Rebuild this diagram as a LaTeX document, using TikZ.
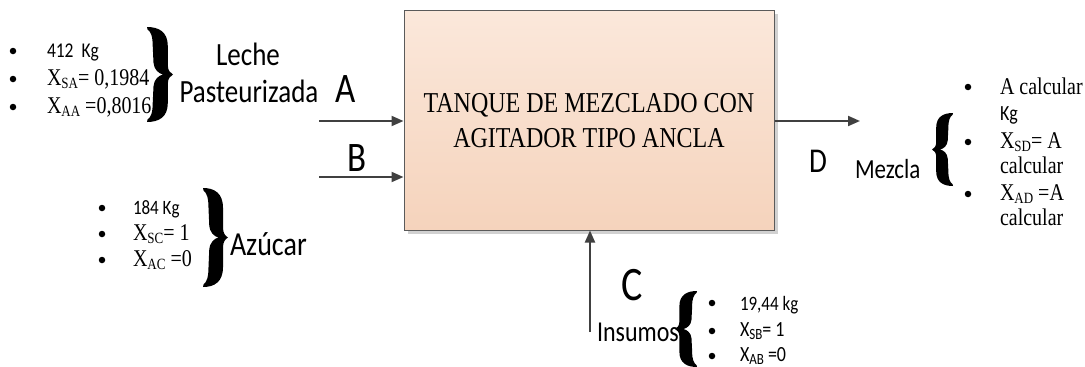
\documentclass[tikz,border=0pt]{standalone}
\usepackage{fontspec}
\usepackage{graphicx}
\setmainfont{Liberation Serif}
\newfontfamily\calfont{Carlito}
\usetikzlibrary{arrows.meta,shadows}
\newcommand\fs[1]{\fontsize{#1}{#1}\selectfont}
\newcommand\vs[1]{\scalebox{1}[1.2]{#1}}
\newcommand\sbs[1]{\raisebox{-2.5pt}{\fs{13}#1}}
\definecolor{lc}{HTML}{404040}
\definecolor{bordc}{HTML}{5A5A5A}
\definecolor{topc}{HTML}{FBE8DB}
\definecolor{botc}{HTML}{F5D3BC}
\newcommand\bracepath{(0,-1) .. controls (0.45,-1) and (0.8,-0.9) .. (0.8,-0.6) -- (0.8,-0.2) .. controls (0.8,-0.08) and (0.9,-0.03) .. (1,0) .. controls (0.9,0.03) and (0.8,0.08) .. (0.8,0.2) -- (0.8,0.6) .. controls (0.8,0.9) and (0.45,1) .. (0,1) -- (0.02,0.95) .. controls (0.15,0.9) and (0.22,0.8) .. (0.22,0.6) -- (0.25,0.25) .. controls (0.27,0.1) and (0.45,0.02) .. (0.62,0) .. controls (0.45,-0.02) and (0.27,-0.1) .. (0.25,-0.25) -- (0.22,-0.6) .. controls (0.22,-0.8) and (0.15,-0.9) .. (0.02,-0.95) -- cycle}
\newcommand\rbr[4]{\begin{scope}[shift={(#1,{(#2+#3)/2})}, xscale=#4, yscale={(#3-#2)/2}]\fill[black] \bracepath;\end{scope}}
\newcommand\lbr[4]{\begin{scope}[shift={(#1,{(#2+#3)/2})}, xscale=-#4, yscale={(#3-#2)/2}]\fill[black] \bracepath;\end{scope}}
\begin{document}
\begin{tikzpicture}[x=1pt,y=-1pt,
  txt/.style={inner sep=0pt, outer sep=0pt, anchor=base west},
  ctxt/.style={inner sep=0pt, outer sep=0pt, anchor=base},
  arr/.style={draw=lc, line width=2pt, -{Triangle[length=12pt,width=10pt]}},
  dot/.style={circle, fill=black, inner sep=0pt, minimum size=6.5pt},
  box/.style={draw=bordc, line width=1pt, top color=topc, bottom color=botc, minimum width=370pt, minimum height=220pt, inner sep=0pt,
    drop shadow={shadow xshift=4pt, shadow yshift=-4pt, fill=black!18, opacity=1}}]
\useasboundingbox (0,0) rectangle (1085,367);
% tank
\node[box] (tank) at (589,120) {};
\node[ctxt] (t1) at (589,112) {\vs{\fs{24}TANQUE DE MEZCLADO CON}};
\node[ctxt] (t2) at (589,147) {\vs{\fs{24}AGITADOR TIPO ANCLA}};
% arrows
\coordinate (aS) at (319,121);
\coordinate (bS) at (319,177);
\coordinate (cS) at (590,332);
\coordinate (dE) at (860,121);
\draw[arr] (aS) -- (aS -| tank.west);
\draw[arr] (bS) -- (bS -| tank.west);
\draw[arr] (cS) -- (cS |- tank.south);
\draw[arr] (dE -| tank.east) -- (dE);
% stream letters
\node[txt] (lA) at (335,102) {\vs{\calfont\fs{35}A}};
\node[txt] (lB) at (347,171) {\vs{\calfont\fs{35}B}};
\node[txt] (lC) at (621,300) {\vs{\calfont\fs{40}C}};
\node[txt] (lD) at (809,172) {\vs{\calfont\fs{29}D}};
% Leche
\node[dot] (b1) at (13,51) {};
\node[dot] (b2) at (13,79) {};
\node[dot] (b3) at (13,107) {};
\node[txt] (a1) at (47,57) {\vs{\calfont\fs{17.5}412\ \ Kg}};
\node[txt] (a2) at (47,85) {\vs{\fs{20}X\sbs{SA}= 0,1984}};
\node[txt] (a3) at (47,113) {\vs{\fs{20}X\sbs{AA} =0,8016}};
\rbr{147}{27}{122}{26}
\node[ctxt] (le1) at (248,65) {\vs{\calfont\fs{27}Leche}};
\node[ctxt] (le2) at (249,102) {\vs{\calfont\fs{27}Pasteurizada}};
% Azucar
\node[dot] (c1) at (102,208) {};
\node[dot] (c2) at (102,234) {};
\node[dot] (c3) at (102,260) {};
\node[txt] (z1) at (133,214) {\vs{\calfont\fs{17}184 Kg}};
\node[txt] (z2) at (133,240) {\vs{\fs{20}X\sbs{SC}= 1}};
\node[txt] (z3) at (133,266) {\vs{\fs{20}X\sbs{AC} =0}};
\rbr{203}{188}{287}{25}
\node[txt] (az) at (230,255) {\vs{\calfont\fs{28}Azúcar}};
% Mezcla
\node[txt] (mz) at (855,178) {\vs{\calfont\fs{23}Mezcla}};
\lbr{953}{113}{186}{21}
\node[dot] (d1) at (968,87) {};
\node[dot] (d2) at (968,142) {};
\node[dot] (d3) at (968,194) {};
\node[txt] (m1) at (1000,94) {\vs{\fs{20}A calcular}};
\node[txt] (m2) at (1000,120) {\vs{\calfont\fs{18}Kg}};
\node[txt] (m3) at (1000,148) {\vs{\fs{20}X\sbs{SD}= A}};
\node[txt] (m4) at (1000,173) {\vs{\fs{20}calcular}};
\node[txt] (m5) at (1000,200) {\vs{\fs{20}X\sbs{AD} =A}};
\node[txt] (m6) at (1000,225) {\vs{\fs{20}calcular}};
% Insumos
\node[txt] (in) at (597,341) {\vs{\calfont\fs{24}Insumos}};
\lbr{697}{291}{367}{22}
\node[dot] (e1) at (712,303) {};
\node[dot] (e2) at (712,331) {};
\node[dot] (e3) at (712,356) {};
\node[txt] (i1) at (740,310) {\vs{\calfont\fs{17}19,44 kg}};
\node[txt] (i2) at (740,336) {\vs{\calfont\fs{18}X\sbs{SB}= 1}};
\node[txt] (i3) at (740,361) {\vs{\calfont\fs{18}X\sbs{AB} =0}};
\end{tikzpicture}
\end{document}
